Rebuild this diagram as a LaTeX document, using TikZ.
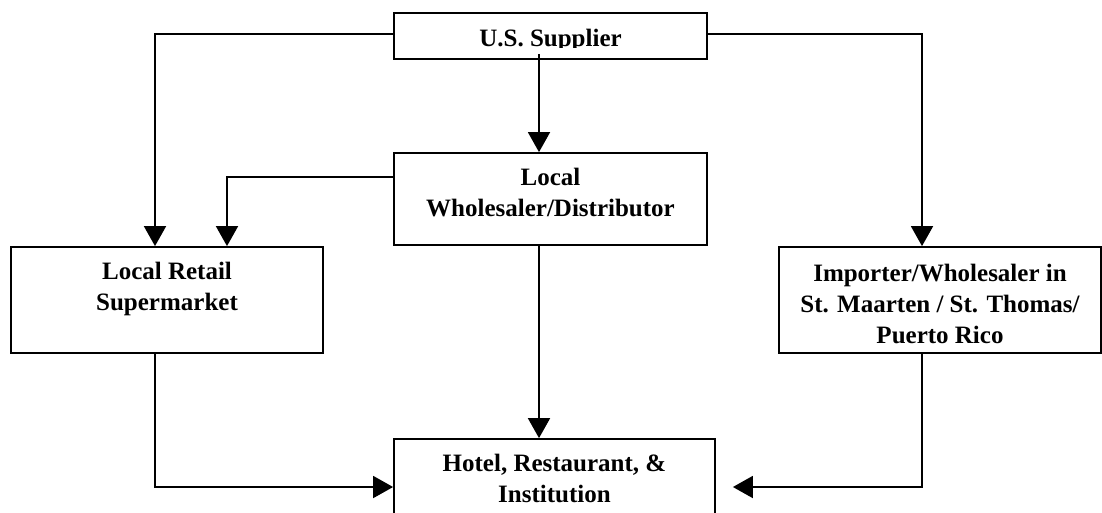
\documentclass[tikz,border=0pt]{standalone}
\usepackage{fontspec}
\setmainfont{Liberation Serif}
\usetikzlibrary{arrows.meta}

\begin{document}
\begin{tikzpicture}[x=1pt,y=-1pt,
		box/.style={draw,line width=1.8pt,inner sep=0pt},
		lbl/.style={inner sep=0pt,align=center,anchor=north,font=\bfseries\fontsize{25}{31}\selectfont},
		link/.style={line width=1.8pt,-{Triangle[width=22pt,length=20pt]}}]
		
		
		\path[use as bounding box,clip] (0,0) rectangle (1102,512);
		
		
		\node[box,minimum width=313pt,minimum height=46pt] (supplier) at (550.5,36) {};
		\node[box,minimum width=313pt,minimum height=92pt] (wholesaler) at (550.5,199) {};
		\node[box,minimum width=312pt,minimum height=106pt] (retail) at (167,300) {};
		\node[box,minimum width=322pt,minimum height=106pt] (importer) at (940,300) {};
		\node[box,minimum width=321pt,minimum height=82pt] (hotel) at (554.5,480) {};
		
		
		\begin{scope}
			\clip (394,13) rectangle (707,47);
			\node[lbl] (suppliertext) at ([yshift=-17pt]supplier.north) {U.S. Supplier};
		\end{scope}
		\node[lbl] (wholesalertext) at ([yshift=-16pt]wholesaler.north) {Local\\Wholesaler/Distributor};
		\node[lbl] (retailtext) at ([yshift=-16pt]retail.north) {Local Retail\\Supermarket};
		\node[lbl] (importertext) at ([yshift=-18pt]importer.north) {Importer/Wholesaler in\\St. Maarten / St. Thomas/\\Puerto Rico};
		\node[lbl] (hoteltext) at ([yshift=-16pt]hotel.north) {Hotel, Restaurant, \&\\Institution};
		
		
		\coordinate (supplierout) at ([xshift=-11.5pt,yshift=6pt]supplier.south);
		\coordinate (hoteleast) at ([xshift=17pt,yshift=-7pt]hotel.east);
		
		
		\draw[link] ([yshift=2pt]supplier.west) -| ([xshift=-12pt]retail.north);
		\draw[link] ([yshift=2pt]supplier.east) -| ([xshift=-18pt]importer.north);
		\draw[link] (supplierout) -- (supplierout |- wholesaler.north);
		
		
		\draw[link] ([yshift=22pt]wholesaler.west) -| ([xshift=60pt]retail.north);
		\draw[link] ([xshift=-11.5pt]wholesaler.south) -- ([xshift=-11.5pt]wholesaler.south |- hotel.north);
		
		
		\draw[link] ([xshift=-12pt]retail.south) |- ([yshift=-7pt]hotel.west);
		\draw[link] ([xshift=-18pt]importer.south) |- (hoteleast);
		
		
	\end{tikzpicture}
\end{document}
